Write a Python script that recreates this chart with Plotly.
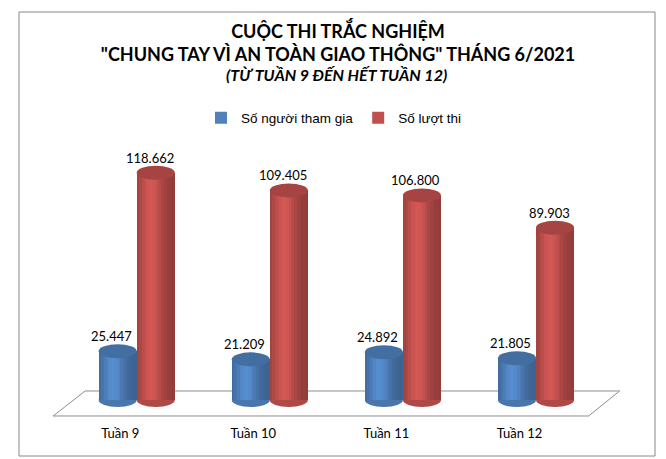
import math
import plotly.graph_objects as go

# --- dữ liệu ---
tuan = ["Tuần 9", "Tuần 10", "Tuần 11", "Tuần 12"]
so_nguoi = [25447, 21209, 24892, 21805]
so_luot = [118662, 109405, 106800, 89903]

ten_nguoi = "Số người tham gia"
ten_luot = "Số lượt thi"

# --- khung hình (trang html có lề body 8px nên bù lại) ---
BODY = 8
W, H = 666 - BODY, 459 - BODY
ML, MR, MT, MB = 47 - BODY, 40, 150 - BODY, 41
X_RANGE = [-0.55, 3.8]
Y_RANGE = [-9400, 130500]
pw, ph = W - ML - MR, H - MT - MB
u_per_px_y = (Y_RANGE[1] - Y_RANGE[0]) / ph


def px_x(p):  # toạ độ pixel ảnh gốc -> paper
    return (p - BODY - ML) / pw


def px_y(p):
    return (H - MB - (p - BODY)) / ph


BAR_W = 0.286
OFF_BLUE, OFF_RED = -0.019, 0.267
ELL_H = 7 * u_per_px_y          # nửa chiều cao elip nắp trụ


def shade(rgb, k):
    return "rgb(%d,%d,%d)" % tuple(max(0, min(255, int(c * k))) for c in rgb)


def shade_factor(t):
    # sáng ở khoảng 38% từ trái, tối dần ra hai mép
    return 0.76 + 0.34 * math.exp(-((t - 0.38) / 0.3) ** 2)


XANH = (79, 129, 189)
DO = (192, 80, 77)

fig = go.Figure()
shapes = []

# khung viền ngoài
shapes.append(dict(type="rect", xref="paper", yref="paper",
                   x0=px_x(19), x1=px_x(655), y0=px_y(456), y1=px_y(12),
                   line=dict(color="#888888", width=1)))

# sàn 3D
shapes.append(dict(type="path", xref="x", yref="y", layer="below",
                   path="M -0.504 -8350 L 3.519 -8350 L 3.752 4700 L -0.263 4700 Z",
                   line=dict(color="#8c8c8c", width=1), fillcolor="white"))

series = [(ten_nguoi, so_nguoi, XANH, OFF_BLUE), (ten_luot, so_luot, DO, OFF_RED)]
n_strip = 14
for name, vals, rgb, off in series:
    xs = [i + off for i in range(len(tuan))]
    fig.add_trace(go.Bar(x=xs, y=vals, width=BAR_W, name=name,
                         marker=dict(color=shade(rgb, 1.0), line=dict(width=0)),
                         hoverinfo="skip"))
    sw = BAR_W / n_strip
    for k in range(n_strip):
        t = (k + 0.5) / n_strip
        fig.add_trace(go.Bar(x=[x - BAR_W / 2 + (k + 0.5) * sw for x in xs], y=vals,
                             width=sw * 1.08, showlegend=False, hoverinfo="skip",
                             marker=dict(color=shade(rgb, shade_factor(t)), line=dict(width=0))))
    for x, v in zip(xs, vals):
        # đáy trụ
        shapes.append(dict(type="circle", xref="x", yref="y", layer="below",
                           x0=x - BAR_W / 2, x1=x + BAR_W / 2, y0=-ELL_H, y1=ELL_H,
                           fillcolor=shade(rgb, 0.92), line=dict(width=0)))
        # nắp trụ
        shapes.append(dict(type="circle", xref="x", yref="y", layer="above",
                           x0=x - BAR_W / 2, x1=x + BAR_W / 2, y0=v - ELL_H, y1=v + ELL_H,
                           fillcolor=shade(rgb, 0.86), line=dict(width=0)))

annotations = []
for name, vals, rgb, off in series:
    for i, v in enumerate(vals):
        annotations.append(dict(x=i + off, y=v, xref="x", yref="y", showarrow=False,
                                text=f"{v:,}".replace(",", "."), yshift=15, xshift=-6,
                                font=dict(family="Lato", size=13, color="black")))

# dòng tiêu đề thứ 3
annotations.append(dict(xref="paper", yref="paper", x=px_x(336), y=px_y(75),
                        xanchor="center", yanchor="middle", showarrow=False,
                        text="<b><i>(TỪ TUẦN 9 ĐẾN HẾT TUẦN 12)</i></b>",
                        font=dict(family="Lato", size=16, color="black")))

fig.update_layout(
    width=W, height=H, barmode="overlay", bargap=0,
    margin=dict(l=ML, r=MR, t=MT, b=MB, autoexpand=False),
    paper_bgcolor="white", plot_bgcolor="white",
    title=dict(text="<b>CUỘC THI TRẮC NGHIỆM<br>\"CHUNG TAY VÌ AN TOÀN GIAO THÔNG\" THÁNG 6/2021</b>",
               x=px_x(338) * pw / W + ML / W, xanchor="center",
               y=1 - (38 - BODY) / H, yanchor="middle", yref="container",
               font=dict(family="Lato", size=18, color="black")),
    legend=dict(orientation="h", x=px_x(334), xanchor="center",
                y=px_y(118), yanchor="middle",
                font=dict(family="Liberation Sans", size=13.5, color="black")),
    xaxis=dict(range=X_RANGE, tickvals=list(range(len(tuan))), ticktext=tuan,
               showgrid=False, zeroline=False, showline=False,
               ticks="outside", ticklen=3, tickcolor="white",
               tickfont=dict(family="Lato", size=13, color="black"), fixedrange=True),
    yaxis=dict(range=Y_RANGE, visible=False, fixedrange=True),
    shapes=shapes, annotations=annotations, showlegend=True,
)

fig.write_html("out.html")
